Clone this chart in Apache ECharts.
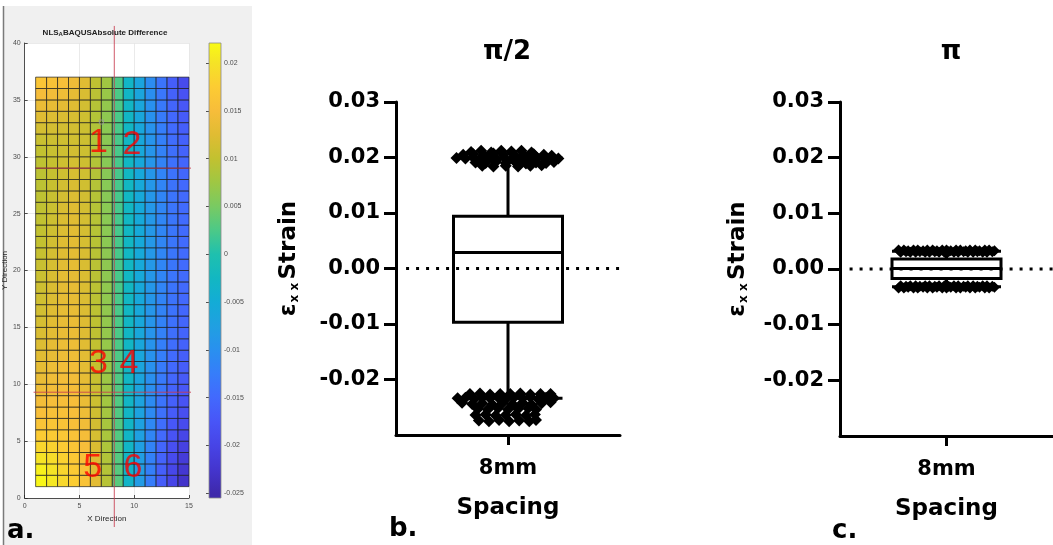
<!DOCTYPE html>
<html><head><meta charset="utf-8">
<script src="https://cdn.jsdelivr.net/npm/echarts@6/dist/echarts.min.js"></script>
<style>html,body{margin:0;padding:0;background:#fff}#c{width:1053px;height:545px}</style>
</head><body><div id="c"></div><script>
// ---------- Panel a: cell values, rows from y=1 (bottom) to y=36 (top), columns x=1..14 ----------
const heatRows = [
 [0.0220,0.0205,0.0188,0.0176,0.0160,0.0128,0.0092,0.0032,-0.0032,-0.0082,-0.0125,-0.0165,-0.0198,-0.0228],
 [0.0214,0.0200,0.0185,0.0172,0.0158,0.0126,0.0090,0.0031,-0.0031,-0.0080,-0.0122,-0.0162,-0.0195,-0.0222],
 [0.0200,0.0192,0.0180,0.0168,0.0155,0.0123,0.0088,0.0030,-0.0030,-0.0078,-0.0120,-0.0158,-0.0190,-0.0214],
 [0.0186,0.0182,0.0173,0.0163,0.0151,0.0120,0.0085,0.0030,-0.0030,-0.0076,-0.0117,-0.0154,-0.0184,-0.0205],
 [0.0174,0.0172,0.0166,0.0158,0.0147,0.0117,0.0083,0.0029,-0.0030,-0.0074,-0.0114,-0.0149,-0.0178,-0.0197],
 [0.0162,0.0163,0.0160,0.0154,0.0143,0.0114,0.0081,0.0029,-0.0029,-0.0072,-0.0111,-0.0144,-0.0172,-0.0190],
 [0.0153,0.0156,0.0156,0.0151,0.0139,0.0111,0.0079,0.0028,-0.0029,-0.0070,-0.0108,-0.0140,-0.0166,-0.0184],
 [0.0146,0.0151,0.0152,0.0149,0.0136,0.0108,0.0077,0.0028,-0.0029,-0.0069,-0.0106,-0.0136,-0.0161,-0.0178],
 [0.0140,0.0146,0.0149,0.0147,0.0133,0.0106,0.0075,0.0027,-0.0028,-0.0067,-0.0103,-0.0132,-0.0157,-0.0173],
 [0.0135,0.0142,0.0146,0.0145,0.0131,0.0104,0.0073,0.0027,-0.0028,-0.0066,-0.0101,-0.0129,-0.0153,-0.0169],
 [0.0130,0.0138,0.0143,0.0143,0.0129,0.0102,0.0072,0.0026,-0.0028,-0.0065,-0.0099,-0.0127,-0.0150,-0.0165],
 [0.0126,0.0134,0.0140,0.0141,0.0127,0.0101,0.0071,0.0026,-0.0027,-0.0063,-0.0097,-0.0124,-0.0147,-0.0162],
 [0.0122,0.0131,0.0138,0.0139,0.0126,0.0099,0.0069,0.0025,-0.0027,-0.0062,-0.0095,-0.0122,-0.0144,-0.0159],
 [0.0119,0.0128,0.0136,0.0137,0.0124,0.0098,0.0068,0.0025,-0.0027,-0.0061,-0.0094,-0.0120,-0.0142,-0.0156],
 [0.0116,0.0126,0.0134,0.0136,0.0123,0.0097,0.0067,0.0025,-0.0027,-0.0060,-0.0092,-0.0118,-0.0140,-0.0154],
 [0.0113,0.0124,0.0132,0.0134,0.0122,0.0096,0.0066,0.0024,-0.0026,-0.0059,-0.0091,-0.0117,-0.0138,-0.0152],
 [0.0111,0.0122,0.0131,0.0133,0.0121,0.0095,0.0065,0.0024,-0.0026,-0.0058,-0.0090,-0.0116,-0.0137,-0.0150],
 [0.0109,0.0120,0.0129,0.0132,0.0120,0.0095,0.0065,0.0024,-0.0026,-0.0058,-0.0089,-0.0115,-0.0136,-0.0149],
 [0.0107,0.0118,0.0128,0.0131,0.0120,0.0094,0.0064,0.0023,-0.0026,-0.0057,-0.0089,-0.0114,-0.0135,-0.0148],
 [0.0105,0.0117,0.0127,0.0130,0.0119,0.0094,0.0064,0.0023,-0.0026,-0.0057,-0.0088,-0.0113,-0.0134,-0.0147],
 [0.0103,0.0115,0.0125,0.0129,0.0118,0.0093,0.0063,0.0023,-0.0026,-0.0057,-0.0088,-0.0113,-0.0134,-0.0147],
 [0.0101,0.0113,0.0124,0.0128,0.0117,0.0093,0.0062,0.0023,-0.0026,-0.0056,-0.0088,-0.0113,-0.0134,-0.0147],
 [0.0100,0.0111,0.0122,0.0127,0.0116,0.0092,0.0062,0.0022,-0.0026,-0.0056,-0.0088,-0.0113,-0.0134,-0.0147],
 [0.0099,0.0109,0.0120,0.0125,0.0115,0.0092,0.0061,0.0022,-0.0026,-0.0056,-0.0088,-0.0113,-0.0134,-0.0147],
 [0.0098,0.0107,0.0118,0.0123,0.0114,0.0091,0.0061,0.0022,-0.0026,-0.0056,-0.0088,-0.0113,-0.0135,-0.0148],
 [0.0097,0.0105,0.0115,0.0121,0.0113,0.0091,0.0060,0.0022,-0.0026,-0.0057,-0.0089,-0.0114,-0.0136,-0.0149],
 [0.0096,0.0104,0.0113,0.0119,0.0112,0.0090,0.0060,0.0022,-0.0026,-0.0057,-0.0089,-0.0115,-0.0137,-0.0150],
 [0.0096,0.0103,0.0111,0.0117,0.0111,0.0090,0.0060,0.0022,-0.0026,-0.0058,-0.0090,-0.0116,-0.0138,-0.0152],
 [0.0097,0.0103,0.0110,0.0115,0.0110,0.0089,0.0060,0.0022,-0.0026,-0.0058,-0.0091,-0.0117,-0.0140,-0.0154],
 [0.0100,0.0105,0.0110,0.0113,0.0109,0.0089,0.0060,0.0023,-0.0027,-0.0059,-0.0092,-0.0119,-0.0142,-0.0157],
 [0.0106,0.0108,0.0111,0.0112,0.0108,0.0088,0.0061,0.0023,-0.0027,-0.0060,-0.0094,-0.0121,-0.0145,-0.0160],
 [0.0114,0.0114,0.0114,0.0113,0.0108,0.0088,0.0062,0.0024,-0.0027,-0.0061,-0.0096,-0.0124,-0.0148,-0.0164],
 [0.0124,0.0122,0.0120,0.0117,0.0110,0.0089,0.0064,0.0024,-0.0028,-0.0062,-0.0098,-0.0127,-0.0151,-0.0168],
 [0.0136,0.0133,0.0129,0.0124,0.0114,0.0091,0.0067,0.0025,-0.0028,-0.0063,-0.0100,-0.0130,-0.0155,-0.0173],
 [0.0149,0.0146,0.0140,0.0132,0.0119,0.0094,0.0071,0.0025,-0.0029,-0.0065,-0.0102,-0.0133,-0.0159,-0.0180],
 [0.0163,0.0159,0.0153,0.0142,0.0125,0.0098,0.0076,0.0026,-0.0030,-0.0066,-0.0105,-0.0136,-0.0164,-0.0190]
];
// parula-like colour map, one colour per value step
const cmapValues = [-0.025,-0.0225,-0.02,-0.0175,-0.015,-0.0125,-0.01,-0.0075,-0.005,-0.0025,0,0.0025,0.005,0.0075,0.01,0.0125,0.015,0.0175,0.02,0.0225];
const cmapColors = ['#3e29ab','#4435ce','#4744e6','#4855f7','#4269fd','#367dfa','#2990ef','#20a0e1','#13acd6','#12b7c2','#1fc0ae','#4cc987','#79ca62','#9fc743','#c2c130','#e0bc33','#f7bd3a','#fccc33','#f5e326','#f9fb14'];
const cbMin = -0.0255, cbMax = 0.0221;
const cbTicks = [-0.025,-0.02,-0.015,-0.01,-0.005,0,0.005,0.01,0.015,0.02];
const redLabels = [['1',6.74,31.2],['2',9.79,31.1],['3',6.74,11.8],['4',9.52,11.8],['5',6.2,2.64],['6',9.88,2.64]];
const crossV = [[8.18,-2.55],[8.18,41.5]];
const crossH1 = [[0.99,29.0],[16.17,29.0]];
const crossH2 = [[0.81,9.3],[15.72,9.3]];
const probe = [[7.0,33.05]];

// ---------- Panels b, c ----------
const categories = ['8mm'];
const yTicks = [-0.02,-0.01,0,0.01,0.02,0.03];
const boxB = [-0.0234,-0.0097,0.0029,0.0094,0.0199];
const outB = [
 [-0.33,0.0210],[-0.24,0.0212],[-0.15,0.0209],[-0.06,0.0212],[0.03,0.0211],[0.12,0.0212],[0.21,0.0209],
 [-0.40,0.0205],[-0.31,0.0206],[-0.22,0.0204],[-0.13,0.0207],[-0.04,0.0205],[0.05,0.0206],[0.14,0.0204],[0.23,0.0206],[0.32,0.0205],[0.39,0.0203],
 [-0.46,0.0199],[-0.38,0.0198],[-0.31,0.0200],[-0.24,0.0198],[-0.17,0.0199],[-0.10,0.0197],[-0.03,0.0199],[0.04,0.0198],[0.12,0.0200],[0.19,0.0198],[0.26,0.0199],[0.33,0.0197],[0.40,0.0199],[0.45,0.0198],
 [-0.29,0.0191],[-0.20,0.0190],[-0.11,0.0192],[-0.02,0.0190],[0.07,0.0191],[0.16,0.0189],[0.25,0.0191],[0.34,0.0190],[0.41,0.0192],
 [-0.23,0.0185],[-0.13,0.0184],[-0.02,0.0185],[0.09,0.0184],[0.20,0.0185],[0.30,0.0186],
 [-0.34,-0.0226],[-0.25,-0.0225],[-0.16,-0.0227],[-0.07,-0.0226],[0.02,-0.0226],[0.11,-0.0225],[0.20,-0.0227],[0.29,-0.0226],[0.38,-0.0226],
 [-0.45,-0.0234],[-0.38,-0.0233],[-0.30,-0.0235],[-0.23,-0.0233],[-0.16,-0.0234],[-0.09,-0.0232],[-0.02,-0.0235],[0.05,-0.0233],[0.13,-0.0234],[0.20,-0.0232],[0.27,-0.0235],[0.34,-0.0233],[0.41,-0.0234],
 [-0.41,-0.0242],[-0.32,-0.0244],[-0.23,-0.0243],[-0.14,-0.0245],[-0.05,-0.0243],[0.04,-0.0244],[0.13,-0.0242],[0.21,-0.0245],[0.30,-0.0243],[0.38,-0.0241],
 [-0.27,-0.0253],[-0.18,-0.0254],[-0.09,-0.0252],[0.00,-0.0254],[0.09,-0.0253],[0.18,-0.0252],[0.25,-0.0254],
 [-0.29,-0.0264],[-0.20,-0.0263],[-0.11,-0.0265],[-0.02,-0.0264],[0.07,-0.0263],[0.16,-0.0265],[0.24,-0.0263],
 [-0.26,-0.0274],[-0.17,-0.0275],[-0.08,-0.0273],[0.01,-0.0275],[0.10,-0.0274],[0.19,-0.0275],[0.25,-0.0273]
];
const boxC = [-0.0032,-0.0017,0.0001,0.0018,0.0032];
const outC = [
 [-0.45,0.0034],[-0.40,0.0034],[-0.36,0.0033],[-0.31,0.0034],[-0.27,0.0034],[-0.22,0.0033],[-0.18,0.0034],[-0.13,0.0034],[-0.09,0.0033],[-0.04,0.0034],[0.00,0.0034],[0.04,0.0033],[0.09,0.0034],[0.13,0.0034],[0.18,0.0033],[0.22,0.0034],[0.27,0.0034],[0.31,0.0033],[0.36,0.0034],[0.40,0.0034],[0.45,0.0033],
 [-0.43,0.0030],[-0.38,0.0031],[-0.34,0.0030],[-0.29,0.0030],[-0.25,0.0031],[-0.20,0.0030],[-0.16,0.0030],[-0.11,0.0031],[-0.07,0.0030],[-0.02,0.0030],[0.02,0.0031],[0.07,0.0030],[0.11,0.0030],[0.16,0.0031],[0.20,0.0030],[0.25,0.0030],[0.29,0.0031],[0.34,0.0030],[0.38,0.0030],[0.43,0.0031],
 [-0.45,-0.0034],[-0.40,-0.0034],[-0.36,-0.0033],[-0.31,-0.0034],[-0.27,-0.0034],[-0.22,-0.0033],[-0.18,-0.0034],[-0.13,-0.0034],[-0.09,-0.0033],[-0.04,-0.0034],[0.00,-0.0034],[0.04,-0.0033],[0.09,-0.0034],[0.13,-0.0034],[0.18,-0.0033],[0.22,-0.0034],[0.27,-0.0034],[0.31,-0.0033],[0.36,-0.0034],[0.40,-0.0034],[0.45,-0.0033],
 [-0.43,-0.0030],[-0.38,-0.0031],[-0.34,-0.0030],[-0.29,-0.0030],[-0.25,-0.0031],[-0.20,-0.0030],[-0.16,-0.0030],[-0.11,-0.0031],[-0.07,-0.0030],[-0.02,-0.0030],[0.02,-0.0031],[0.07,-0.0030],[0.11,-0.0030],[0.16,-0.0031],[0.20,-0.0030],[0.25,-0.0030],[0.29,-0.0031],[0.34,-0.0030],[0.38,-0.0030],[0.43,-0.0031]
];
const zeroLine = [[-0.91,0],[1,0]];

// ---------- build ----------
const heatData = [];
heatRows.forEach((row, r) => row.forEach((v, c) => heatData.push([c + 1, r + 1, v])));
const cbStops = cmapValues.map((v, i) => ({offset: Math.min(1, Math.max(0, (v - cbMin) / (cbMax - cbMin))), color: cmapColors[i]}));

const MF = 'Liberation Sans, Arial, Helvetica, sans-serif';
const BF = 'DejaVu Sans, sans-serif';
const mGray = '#4d4d4d';

function matAxis(extra) {
  return Object.assign({
    axisLine: {show: true, onZero: false, lineStyle: {color: '#262626', width: 0.8}},
    axisTick: {show: true, inside: true, length: 3, lineStyle: {color: '#262626', width: 0.8}},
    axisLabel: {fontFamily: MF, fontSize: 7, color: mGray},
    splitLine: {show: true, lineStyle: {color: '#e4e4e4', width: 0.8}},
    nameTextStyle: {fontFamily: MF, fontSize: 8, color: '#262626'}
  }, extra);
}
const bAxisLine = {show: true, onZero: false, lineStyle: {color: '#000', width: 3}};
const bTick = {show: true, length: 12, lineStyle: {color: '#000', width: 3}};
const bLabel = {fontFamily: BF, fontWeight: 'bold', fontSize: 21, color: '#000'};
const yNameRich = {
  e: {fontFamily: BF, fontWeight: 'bold', fontSize: 23, color: '#000'},
  s: {fontFamily: BF, fontWeight: 'bold', fontSize: 12, color: '#000', padding: [10, 0, 0, 1]},
  n: {fontFamily: BF, fontWeight: 'bold', fontSize: 23, color: '#000'}
};
function strainAxis(grid, gap) {
  return {
    gridIndex: grid, type: 'value', min: -0.03, max: 0.03, interval: 0.01,
    axisLine: bAxisLine,
    axisTick: Object.assign({customValues: yTicks}, bTick),
    axisLabel: Object.assign({customValues: yTicks, margin: 16, formatter: v => v.toFixed(2)}, bLabel),
    splitLine: {show: false},
    name: '{e|ε}{s|x x} {n|Strain}', nameLocation: 'middle', nameRotate: 90, nameGap: gap,
    nameTextStyle: {rich: yNameRich, padding: [0, 0, 0, 20]}
  };
}
function catAxis(grid) {
  return {
    gridIndex: grid, type: 'category', data: categories,
    axisLine: bAxisLine,
    axisTick: Object.assign({alignWithLabel: true}, bTick, {length: 10}),
    axisLabel: Object.assign({margin: 23}, bLabel),
    name: 'Spacing', nameLocation: 'middle', nameGap: 62,
    nameTextStyle: {fontFamily: BF, fontWeight: 'bold', fontSize: 23, color: '#000'}
  };
}
const boxStyle = {color: '#fff', borderColor: '#000', borderWidth: 3};
const diamond = {color: '#000', opacity: 1};

const chart = echarts.init(document.getElementById('c'), null, {renderer: 'canvas'});
chart.setOption({
  animation: false,
  backgroundColor: '#fff',
  graphic: [
    {type: 'rect', z: -10, shape: {x: 4, y: 6, width: 248, height: 539}, style: {fill: '#f0f0f0'}},
    {type: 'line', z: -9, shape: {x1: 3.5, y1: 6, x2: 3.5, y2: 545}, style: {stroke: '#7a7a7a', lineWidth: 1.5}},
    {type: 'text', z: 50, style: {text: '{a|NLS}{s|A}{a|BAQUSAbsolute Difference}', x: 105, y: 33, align: 'center', verticalAlign: 'middle',
      rich: {a: {fontFamily: MF, fontWeight: 'bold', fontSize: 8, fill: '#222', color: '#222'},
             s: {fontFamily: MF, fontWeight: 'bold', fontSize: 6, fill: '#222', color: '#222', padding: [3, 0, 0, 0]}}}},
    {type: 'text', z: 50, style: {text: 'π/2', x: 507, y: 52, align: 'center', verticalAlign: 'middle', font: 'bold 26px DejaVu Sans', fill: '#000'}},
    {type: 'text', z: 50, style: {text: 'π', x: 951, y: 52, align: 'center', verticalAlign: 'middle', font: 'bold 26px DejaVu Sans', fill: '#000'}},
    {type: 'text', z: 50, style: {text: 'a.', x: 7, y: 531, verticalAlign: 'middle', font: 'bold 26px DejaVu Sans', fill: '#000'}},
    {type: 'text', z: 50, style: {text: 'b.', x: 389, y: 529, verticalAlign: 'middle', font: 'bold 26px DejaVu Sans', fill: '#000'}},
    {type: 'text', z: 50, style: {text: 'c.', x: 832, y: 531, verticalAlign: 'middle', font: 'bold 26px DejaVu Sans', fill: '#000'}}
  ],
  grid: [
    {left: 22, top: 43, width: 167, height: 455, show: true, backgroundColor: '#fff', borderWidth: 0},
    {left: 209, top: 43, width: 12, height: 455},
    {left: 396, top: 102, width: 224, height: 333},
    {left: 840, top: 102, width: 224, height: 334}
  ],
  visualMap: [{type: 'continuous', show: false, seriesIndex: 0, dimension: 2, min: -0.025, max: 0.0225, inRange: {color: cmapColors}}],
  xAxis: [
    matAxis({gridIndex: 0, type: 'value', min: 0, max: 15, interval: 5, name: 'X Direction', nameLocation: 'middle', nameGap: 14,
      axisLabel: {fontFamily: MF, fontSize: 7, color: mGray, margin: 5}}),
    {gridIndex: 1, type: 'value', min: 0, max: 1, show: false},
    catAxis(2),
    {gridIndex: 2, type: 'value', min: -1, max: 1, show: false},
    catAxis(3),
    {gridIndex: 3, type: 'value', min: -1, max: 1, show: false}
  ],
  yAxis: [
    matAxis({gridIndex: 0, type: 'value', min: 0, max: 40, interval: 5, name: 'Y Direction', nameLocation: 'middle', nameGap: 11,
      axisLabel: {fontFamily: MF, fontSize: 7, color: mGray, margin: 4}}),
    {gridIndex: 1, type: 'value', min: cbMin, max: cbMax, position: 'right',
     axisLine: {show: false},
     axisTick: {show: true, inside: true, length: 3, customValues: cbTicks, lineStyle: {color: '#262626', width: 0.8}},
     axisLabel: {customValues: cbTicks, margin: 3, fontFamily: MF, fontSize: 7, color: mGray, formatter: v => String(+v.toFixed(3))},
     splitLine: {show: false}},
    strainAxis(2, 95),
    strainAxis(3, 90)
  ],
  series: [
    {type: 'custom', xAxisIndex: 0, yAxisIndex: 0, data: heatData, encode: {x: 0, y: 1}, z: 2,
     renderItem: (params, api) => {
       const x = api.value(0), y = api.value(1);
       const p0 = api.coord([x, y + 1]), p1 = api.coord([x + 1, y]);
       return {type: 'rect', shape: {x: p0[0], y: p0[1], width: p1[0] - p0[0], height: p1[1] - p0[1]},
               style: {fill: api.visual('color'), stroke: 'rgba(25,25,25,0.85)', lineWidth: 0.8}};
     }},
    {type: 'line', xAxisIndex: 0, yAxisIndex: 0, data: crossV, clip: false, symbol: 'none', z: 5, lineStyle: {color: 'rgba(200,60,80,0.85)', width: 1}},
    {type: 'line', xAxisIndex: 0, yAxisIndex: 0, data: crossH1, clip: false, symbol: 'none', z: 5, lineStyle: {color: 'rgba(200,60,80,0.85)', width: 1}},
    {type: 'line', xAxisIndex: 0, yAxisIndex: 0, data: crossH2, clip: false, symbol: 'none', z: 5, lineStyle: {color: 'rgba(200,60,80,0.85)', width: 1}},
    {type: 'scatter', xAxisIndex: 0, yAxisIndex: 0, data: probe, symbol: 'rect', symbolSize: 4, z: 6,
     itemStyle: {color: 'rgba(0,0,0,0)', borderColor: '#9a9a9a', borderWidth: 1}},
    {type: 'scatter', xAxisIndex: 0, yAxisIndex: 0, z: 7, symbolSize: 1, itemStyle: {color: 'rgba(0,0,0,0)'},
     data: redLabels.map(d => ({name: d[0], value: [d[1], d[2]]})),
     label: {show: true, position: 'inside', formatter: '{b}', fontFamily: MF, fontSize: 34, color: '#ff0000'}},
    {type: 'custom', xAxisIndex: 1, yAxisIndex: 1, data: [[0, cbMin]], encode: {x: 0, y: 1},
     renderItem: (params, api) => {
       const p0 = api.coord([0, cbMax]), p1 = api.coord([1, cbMin]);
       return {type: 'rect', shape: {x: p0[0], y: p0[1], width: p1[0] - p0[0], height: p1[1] - p0[1]},
               style: {fill: new echarts.graphic.LinearGradient(0, 1, 0, 0, cbStops), stroke: '#8c8c8c', lineWidth: 0.8}};
     }},
    {type: 'boxplot', xAxisIndex: 2, yAxisIndex: 2, data: [boxB], boxWidth: [109, 109], itemStyle: boxStyle, z: 2},
    {type: 'line', xAxisIndex: 3, yAxisIndex: 2, data: zeroLine, symbol: 'none', z: 3, lineStyle: {color: '#000', width: 3, type: [3, 7], cap: 'butt'}},
    {type: 'scatter', xAxisIndex: 3, yAxisIndex: 2, data: outB, symbol: 'diamond', symbolSize: 12, itemStyle: diamond, z: 4},
    {type: 'boxplot', xAxisIndex: 4, yAxisIndex: 3, data: [boxC], boxWidth: [109, 109], itemStyle: boxStyle, z: 2},
    {type: 'line', xAxisIndex: 5, yAxisIndex: 3, data: zeroLine, symbol: 'none', z: 3, lineStyle: {color: '#000', width: 3, type: [3, 7], cap: 'butt'}},
    {type: 'scatter', xAxisIndex: 5, yAxisIndex: 3, data: outC, symbol: 'diamond', symbolSize: 11, itemStyle: diamond, z: 4}
  ]
});
</script></body></html>
